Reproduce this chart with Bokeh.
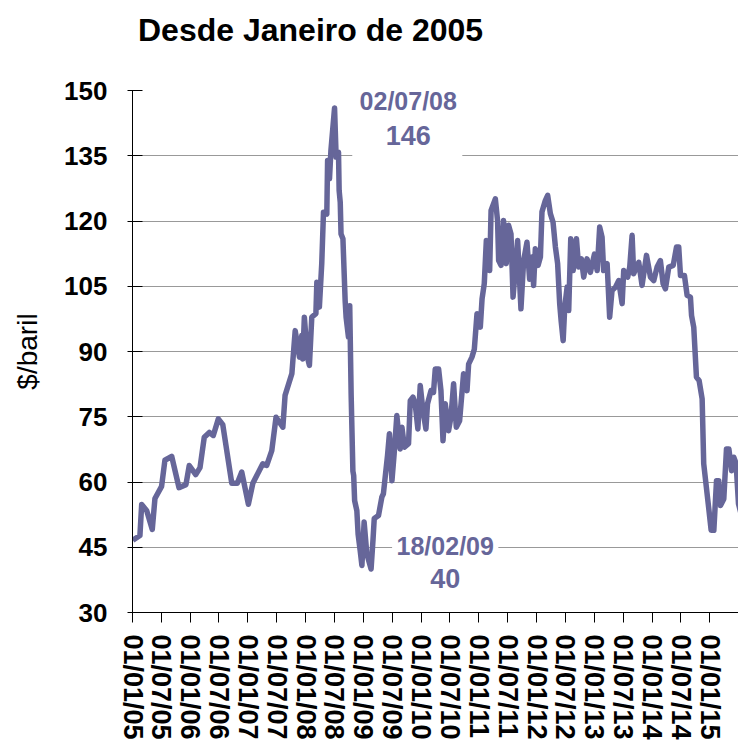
import pandas as pd
from bokeh.plotting import figure
from bokeh.layouts import column
from bokeh.models import (FixedTicker, DatetimeTickFormatter, Label, BoxAnnotation,
                          ColumnDataSource, Range1d, Div)
from bokeh.embed import file_html
from bokeh.resources import INLINE

# ---- data ----
dates = [
    "2005-01-03", "2005-02-17", "2005-02-28", "2005-04-01", "2005-05-06", "2005-05-23",
    "2005-07-04", "2005-07-25", "2005-09-06", "2005-10-22", "2005-12-05", "2005-12-26",
    "2006-02-05", "2006-03-04", "2006-03-31", "2006-05-02", "2006-05-27", "2006-06-28",
    "2006-07-26", "2006-09-21", "2006-10-26", "2006-11-23", "2007-01-04", "2007-02-01",
    "2007-04-05", "2007-04-30", "2007-06-01", "2007-06-28", "2007-08-10", "2007-08-24",
    "2007-10-06", "2007-10-27", "2007-11-23", "2007-12-08", "2007-12-14", "2007-12-24",
    "2008-01-12", "2008-01-25", "2008-02-09", "2008-03-06", "2008-03-12", "2008-03-28",
    "2008-04-12", "2008-04-23", "2008-05-14", "2008-05-19", "2008-05-31", "2008-06-09",
    "2008-07-02", "2008-07-12", "2008-07-27", "2008-07-31", "2008-08-07", "2008-08-12",
    "2008-08-24", "2008-09-07", "2008-09-13", "2008-09-28", "2008-10-06", "2008-10-15",
    "2008-10-26", "2008-10-31", "2008-11-06", "2008-11-20", "2008-11-28", "2008-12-11",
    "2008-12-22", "2009-01-05", "2009-01-22", "2009-02-18", "2009-03-02", "2009-03-10",
    "2009-04-06", "2009-04-27", "2009-05-07", "2009-06-02", "2009-06-14", "2009-06-30",
    "2009-07-14", "2009-07-31", "2009-08-21", "2009-09-01", "2009-09-17", "2009-10-13",
    "2009-10-24", "2009-11-10", "2009-11-24", "2009-12-11", "2009-12-26", "2010-01-12",
    "2010-01-31", "2010-02-10", "2010-03-04", "2010-03-20", "2010-03-31", "2010-04-21",
    "2010-05-06", "2010-05-19", "2010-06-02", "2010-06-23", "2010-07-08", "2010-07-25",
    "2010-08-11", "2010-09-01", "2010-09-10", "2010-09-26", "2010-10-18", "2010-10-28",
    "2010-11-18", "2010-12-03", "2010-12-20", "2011-01-10", "2011-01-21", "2011-02-04",
    "2011-02-17", "2011-03-10", "2011-03-19", "2011-04-15", "2011-04-29", "2011-05-06",
    "2011-05-21", "2011-06-06", "2011-06-23", "2011-07-08", "2011-07-23", "2011-08-05",
    "2011-08-19", "2011-09-03", "2011-09-24", "2011-10-11", "2011-11-01", "2011-11-18",
    "2011-12-03", "2011-12-13", "2011-12-24", "2012-01-10", "2012-01-25", "2012-02-04",
    "2012-02-25", "2012-03-11", "2012-03-28", "2012-04-14", "2012-04-29", "2012-05-13",
    "2012-05-26", "2012-06-04", "2012-06-17", "2012-06-27", "2012-07-12", "2012-07-22",
    "2012-08-04", "2012-08-19", "2012-09-09", "2012-09-23", "2012-10-10", "2012-10-25",
    "2012-11-15", "2012-12-06", "2013-01-01", "2013-01-18", "2013-02-03", "2013-02-18",
    "2013-02-28", "2013-03-22", "2013-04-07", "2013-04-22", "2013-05-14", "2013-06-03",
    "2013-06-25", "2013-07-05", "2013-07-30", "2013-08-12", "2013-08-27", "2013-09-06",
    "2013-10-08", "2013-10-29", "2013-11-26", "2013-12-21", "2014-01-11", "2014-02-01",
    "2014-02-22", "2014-03-11", "2014-03-26", "2014-04-16", "2014-05-14", "2014-06-04",
    "2014-06-18", "2014-06-29", "2014-07-24", "2014-08-10", "2014-08-31", "2014-09-07",
    "2014-09-21", "2014-10-08", "2014-10-25", "2014-11-13", "2014-11-23", "2014-12-24",
    "2015-01-09", "2015-01-26", "2015-02-12", "2015-02-26", "2015-03-09", "2015-03-30",
    "2015-04-16", "2015-05-01", "2015-05-18", "2015-06-01", "2015-06-16", "2015-07-01",
    "2015-07-15",
]
prices = [
    46.6, 47.7, 54.8, 53.4, 49.1, 56.2,
    59.0, 65.0, 65.9, 58.7, 59.4, 63.8,
    61.7, 63.3, 70.3, 71.4, 70.7, 74.5,
    73.2, 59.7, 59.7, 62.3, 54.9, 59.7,
    64.2, 63.8, 67.2, 74.9, 72.6, 79.9,
    84.9, 94.8, 88.7, 93.7, 88.3, 97.9,
    88.7, 86.8, 97.9, 98.7, 105.9, 100.2,
    110.2, 122.0, 121.6, 133.9, 129.7, 136.2,
    146.0, 134.7, 135.8, 127.0, 124.3, 117.0,
    115.9, 101.7, 97.9, 93.3, 100.5, 80.0,
    62.5, 61.5, 55.7, 53.4, 48.0, 44.3,
    40.8, 50.8, 43.5, 40.0, 46.6, 51.6,
    52.3, 56.5, 57.3, 66.1, 71.1, 60.3,
    66.5, 75.3, 67.6, 72.6, 68.0, 68.8,
    78.7, 79.5, 78.0, 72.2, 82.2, 76.4,
    72.2, 78.0, 81.0, 80.6, 86.0, 86.0,
    81.0, 69.5, 78.0, 71.8, 74.9, 82.6,
    72.6, 74.1, 78.0, 84.9, 81.0, 87.1,
    88.7, 90.5, 98.7, 95.6, 102.1, 105.6,
    115.5, 108.6, 122.4, 125.1, 120.1, 110.9,
    109.8, 120.1, 110.2, 119.0, 117.0, 102.5,
    108.6, 115.5, 99.8, 110.9, 115.1, 106.6,
    111.7, 105.2, 113.6, 109.8, 111.7, 122.1,
    124.7, 125.9, 121.7, 119.7, 114.0, 110.2,
    101.0, 97.1, 92.5, 100.2, 104.8, 99.4,
    115.9, 108.6, 115.9, 109.4, 111.3, 107.1,
    111.3, 108.2, 112.4, 108.6, 118.6, 116.3,
    108.6, 110.2, 97.9, 104.0, 104.8, 106.3,
    101.0, 108.6, 107.1, 109.4, 116.7, 107.9,
    110.5, 105.2, 112.1, 107.1, 106.3, 109.4,
    110.9, 105.6, 104.4, 109.4, 109.8, 114.0,
    114.0, 107.5, 107.5, 102.9, 102.5, 98.3,
    95.6, 84.1, 83.3, 79.1, 64.2, 54.2,
    48.9, 48.9, 60.3, 60.3, 54.6, 56.1,
    67.6, 67.6, 62.6, 65.7, 64.2, 55.0,
    53.0,
]
tick_dates = [
    "2005-01-01", "2005-07-01", "2006-01-01", "2006-07-01", "2007-01-01", "2007-07-01",
    "2008-01-01", "2008-07-01", "2009-01-01", "2009-07-01", "2010-01-01", "2010-07-01",
    "2011-01-01", "2011-07-01", "2012-01-01", "2012-07-01", "2013-01-01", "2013-07-01",
    "2014-01-01", "2014-07-01", "2015-01-01", "2015-07-01",
]
y_ticks = [30, 45, 60, 75, 90, 105, 120, 135, 150]

peak_date, peak_value = "2008-07-02", 146
low_date, low_value = "2009-02-18", 40

title_text = "Desde Janeiro de 2005"
y_label = "$/baril"

LINE_COLOR = "#666699"
FONT = "Liberation Sans"
DATE_FMT = "%d/%m/%y"

W, H = 738, 744
TITLE_H = 50
BORDER_L, BORDER_T, BORDER_B = 132, 90 - TITLE_H, 132


def ms(s):
    return pd.Timestamp(s).value / 1e6


source = ColumnDataSource(dict(date=pd.to_datetime(dates), price=prices))

title_div = Div(
    text=(f'<div style="font-family: \'{FONT}\'; font-size: 32px; font-weight: bold; '
          f'color: black; padding-left: 138px; padding-top: 8px; white-space: nowrap;">'
          f'{title_text}</div>'),
    width=W, height=TITLE_H, margin=(0, 0, 0, 0))

p = figure(width=W, height=H - TITLE_H, output_backend="svg", toolbar_location=None,
           x_axis_type="datetime",
           x_range=Range1d(ms(tick_dates[0]), ms(tick_dates[-1])),
           y_range=Range1d(y_ticks[0], y_ticks[-1]),
           min_border_left=BORDER_L, min_border_right=0, min_border_top=BORDER_T,
           min_border_bottom=BORDER_B, margin=(0, 0, 0, 0))

p.outline_line_color = None
p.background_fill_color = "white"
p.border_fill_color = "white"

# grid
p.xgrid.grid_line_color = None
p.ygrid.grid_line_color = "#999999"
p.ygrid.grid_line_width = 1
p.ygrid.ticker = FixedTicker(ticks=y_ticks)

# y axis
p.yaxis.ticker = FixedTicker(ticks=y_ticks)
p.yaxis.axis_line_color = "black"
p.yaxis.major_tick_line_color = "black"
p.yaxis.major_tick_in = 10
p.yaxis.major_tick_out = 5
p.yaxis.minor_tick_line_color = None
p.yaxis.major_label_text_font = FONT
p.yaxis.major_label_text_font_size = "26px"
p.yaxis.major_label_text_font_style = "bold"
p.yaxis.major_label_text_color = "black"
p.yaxis.major_label_standoff = 20
p.yaxis.axis_label = y_label
p.yaxis.axis_label_text_font = FONT
p.yaxis.axis_label_text_font_size = "28px"
p.yaxis.axis_label_text_font_style = "normal"
p.yaxis.axis_label_text_color = "black"
p.yaxis.axis_label_standoff = 18

# x axis (the final tick sits on the right edge of the cropped chart, so its
# label would be pushed onto its neighbour; keep the tick, blank the label)
p.xaxis.ticker = FixedTicker(ticks=[ms(d) for d in tick_dates])
p.xaxis.formatter = DatetimeTickFormatter(
    microseconds=DATE_FMT, milliseconds=DATE_FMT, seconds=DATE_FMT, minsec=DATE_FMT,
    minutes=DATE_FMT, hourmin=DATE_FMT, hours=DATE_FMT, days=DATE_FMT,
    months=DATE_FMT, years=DATE_FMT)
p.xaxis.major_label_overrides = {ms(tick_dates[-1]): ""}
p.xaxis.axis_line_color = "black"
p.xaxis.major_tick_line_color = "black"
p.xaxis.major_tick_in = 0
p.xaxis.major_tick_out = 10
p.xaxis.minor_tick_line_color = None
p.xaxis.major_label_orientation = "vertical"
p.xaxis.major_label_text_font = FONT
p.xaxis.major_label_text_font_size = "27px"
p.xaxis.major_label_text_font_style = "bold"
p.xaxis.major_label_text_color = "black"
p.xaxis.major_label_standoff = 12

# data line
p.line(x="date", y="price", source=source, line_color=LINE_COLOR, line_width=5.5,
       line_join="round")

# annotation boxes (white background behind labels)
p.add_layout(BoxAnnotation(left=ms("2008-10-22"), right=ms("2010-09-18"),
                           bottom=132.5, top=152, fill_color="white", fill_alpha=1,
                           line_color=None))
p.add_layout(BoxAnnotation(left=ms("2009-07-01"), right=ms("2011-05-04"),
                           bottom=34, top=50, fill_color="white", fill_alpha=1,
                           line_color=None))


def add_label(xdate, y, text, size):
    p.add_layout(Label(x=ms(xdate), y=y, text=text, text_align="center",
                       text_baseline="middle", text_font=FONT,
                       text_font_size=size, text_font_style="bold",
                       text_color=LINE_COLOR))


add_label("2009-10-11", 147.6, pd.Timestamp(peak_date).strftime(DATE_FMT), "25px")
add_label("2009-10-11", 139.6, str(peak_value), "27px")
add_label("2010-06-02", 45.4, pd.Timestamp(low_date).strftime(DATE_FMT), "25px")
add_label("2010-06-02", 37.8, str(low_value), "27px")

layout = column(title_div, p, spacing=0)
open("out.html", "w").write(file_html(layout, INLINE))
